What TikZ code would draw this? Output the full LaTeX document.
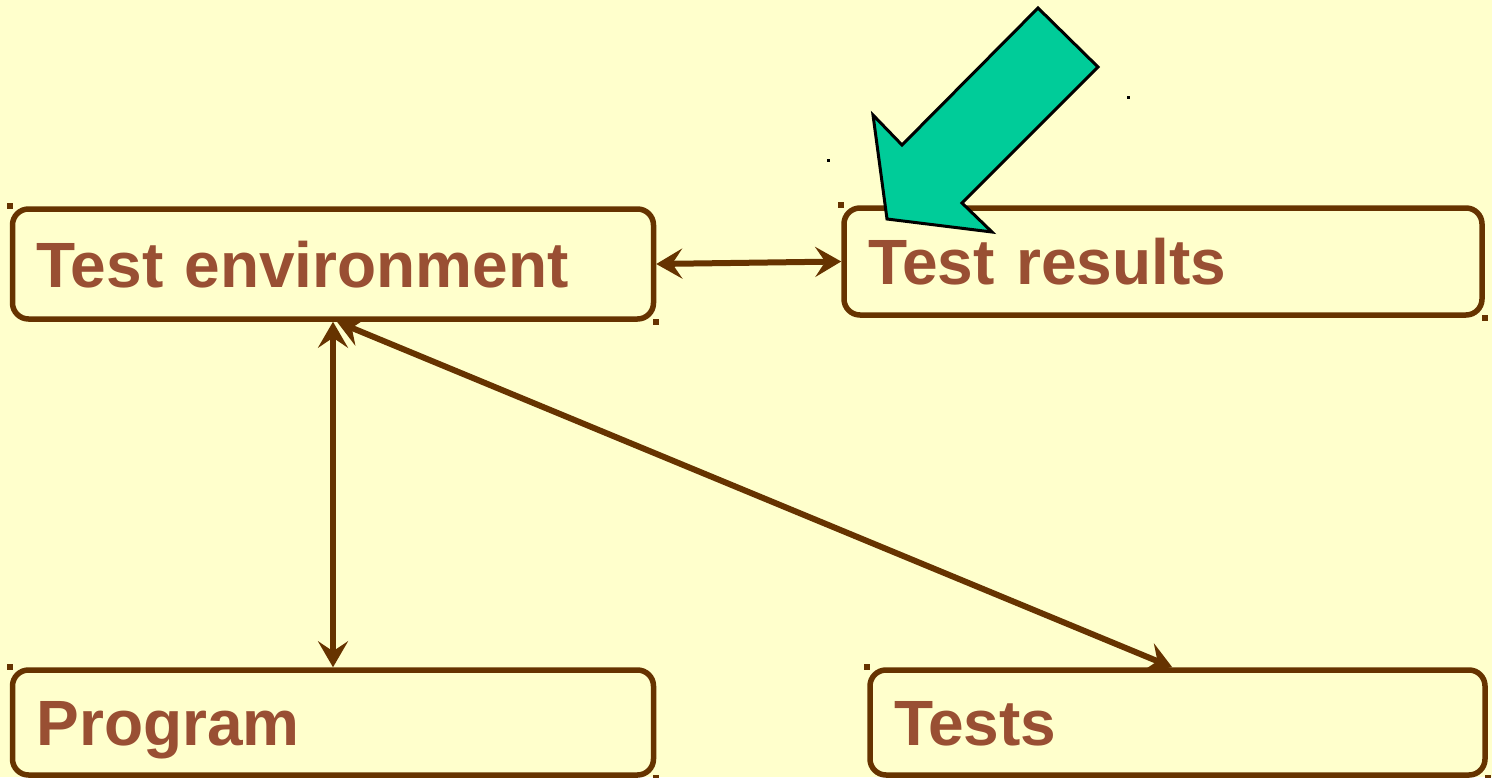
\documentclass[tikz,border=0pt]{standalone}
\usepackage{fontspec}
\setmainfont{Liberation Sans}
\usetikzlibrary{arrows.meta}
\definecolor{paper}{HTML}{FFFFCC}
\definecolor{frame}{HTML}{663300}
\definecolor{label}{HTML}{994F33}
\definecolor{pointer}{HTML}{00CC99}
\tikzset{
  box/.style={draw=frame, line width=5.5pt, rounded corners=16pt, fill=none,
    inner xsep=24pt, inner ysep=0pt, align=left,
    text height=46pt, text depth=0pt, text=label,
    font=\fontsize{64}{76}\selectfont\bfseries},
  link/.style={draw=frame, line width=6pt,
    {Stealth[length=26pt,width=30pt,inset=10pt]}-{Stealth[length=26pt,width=30pt,inset=10pt]}},
  handle/.style={fill=frame, minimum size=6pt, inner sep=0pt},
  speck/.style={fill=black, minimum size=3pt, inner sep=0pt}
}
\begin{document}
\begin{tikzpicture}[x=1pt,y=-1pt]
  \fill[paper] (0,0) rectangle (1492,777);
  \useasboundingbox (0,0) rectangle (1492,777);

  % the four boxes
  \node[box, minimum width=641pt, minimum height=110pt, text width=593pt] (env) at (333,264) {Test environment};
  \node[box, minimum width=638pt, minimum height=107pt, text width=590pt] (res) at (1163,261.5) {Test results};
  \node[box, minimum width=641pt, minimum height=105pt, text width=593pt] (prog) at (333,722.5) {Program};
  \node[box, minimum width=615pt, minimum height=105pt, text width=567pt] (tests) at (1177.5,722.5) {Tests};

  % corner handles
  \node[handle] (h1) at (env.north west) {};
  \node[handle] (h2) at (env.south east) {};
  \node[handle] (h3) at (res.north west) {};
  \node[handle] (h4) at (res.south east) {};
  \node[handle] (h5) at (prog.north west) {};
  \node[handle] (h6) at (prog.south east) {};
  \node[handle] (h7) at (tests.north west) {};
  \node[handle] (h8) at (tests.south east) {};

  % stray marks
  \node[speck] (s1) at (828,160) {};
  \node[speck] (s2) at (1128,97) {};

  % connectors
  \draw[link] (env.east) -- (res.west);
  \draw[link] (env.south) -- (prog.north);
  \coordinate (diagstart) at ([xshift=4pt]env.south);
  \coordinate (diagend) at ([xshift=305pt]tests.north west);
  \draw[link] (diagstart) -- (diagend);

  % block arrow pointing at the results
  \draw[fill=pointer, draw=black, line width=3pt, line join=miter]
    (1038,8) -- (1098,67) -- (962,203) -- (992,232) -- (887,219)
    -- (873,115) -- (902,145) -- cycle;
\end{tikzpicture}
\end{document}
